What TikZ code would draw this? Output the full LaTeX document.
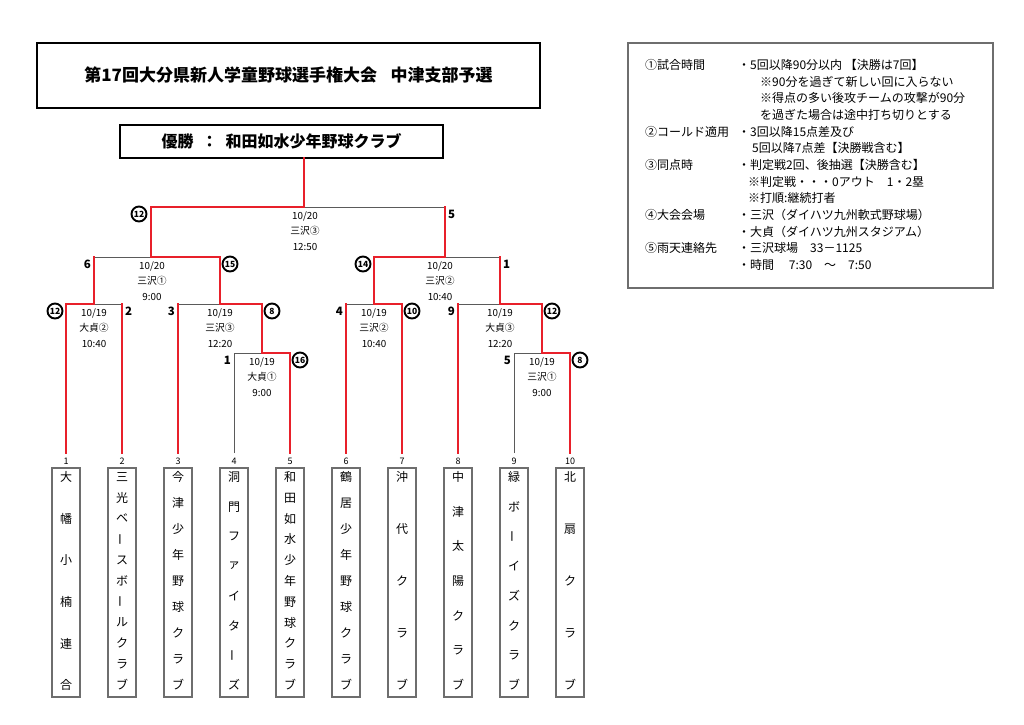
\documentclass[tikz,border=0pt]{standalone}
\usepackage{fontspec}
\setmainfont{Noto Sans CJK JP}
\definecolor{brred}{HTML}{E8202A}
\definecolor{brgray}{HTML}{5A5A5A}
\definecolor{boxgray}{HTML}{6E6E6E}
\newcommand\vbar{\rotatebox[origin=c]{90}{ー}}
\newcommand\minfo[6]{%
  \node[info] (#1-d) at (#2,{#3+9}) {#4};
  \node[info] (#1-p) at (#2,{#3+24}) {#5};
  \node[info] (#1-t) at (#2,{#3+40}) {#6};}
\newcommand\team[4]{%
  \node[tbox] (box#1) at (#2,582.5) {};
  \node[tnum] (num#1) at (#2,461) {#1};
  \coordinate (t#1) at (#2,453);
  \foreach \c [count=\k] in {#4} {\node[tname] (tc#1-\k) at (#2,{477+(\k-1)*208/(#3-1)}) {\c};}}
\begin{document}
\begin{tikzpicture}[x=1pt,y=-1pt,
  gl/.style={draw=brgray,line width=0.9pt},
  rl/.style={draw=brred,line width=2.6pt,line join=miter,line cap=rect},
  info/.style={font=\fontsize{9.8}{10}\selectfont,inner sep=0pt},
  sc/.style={font=\fontsize{11.5}{11.5}\selectfont\bfseries,inner sep=0pt},
  csc/.style={circle,draw,line width=1.9pt,inner sep=0pt,minimum size=15pt,font=\fontsize{8.5}{8.5}\selectfont\bfseries},
  tname/.style={font=\fontsize{12}{12}\selectfont,inner sep=0pt},
  tnum/.style={font=\fontsize{9}{9}\selectfont,inner sep=0pt},
  tbox/.style={draw=boxgray,line width=1.3pt,minimum width=28pt,minimum height=229pt,inner sep=0pt},
  rule/.style={font=\fontsize{12}{12}\selectfont,anchor=west,inner sep=0pt}
]
\useasboundingbox (0,0) rectangle (1024,724);
% title and champion
\node[draw,line width=1.5pt,minimum width=503pt,minimum height=65pt,inner sep=0pt,font=\fontsize{17}{17}\selectfont\bfseries] (title) at (288.5,75.5) {第17回大分県新人学童野球選手権大会\hspace{0.8em}中津支部予選};
\node[draw,line width=1.4pt,minimum width=323pt,minimum height=33pt,inner sep=0pt,font=\fontsize{16}{16}\selectfont\bfseries] (champ) at (281.5,141.5) {優勝\hspace{0.5em}：\hspace{0.5em}和田如水少年野球クラブ};
% rules box
\node[draw=boxgray,line width=1.3pt,minimum width=365pt,minimum height=245pt,inner sep=0pt] (rules) at (810.5,165.5) {};
\node[rule] (r1a) at (645,65) {①試合時間};
\node[rule] (r1b) at (738,65) {・5回以降90分以内 【決勝は7回】};
\node[rule] (r2) at (760,82) {※90分を過ぎて新しい回に入らない};
\node[rule] (r3) at (760,98) {※得点の多い後攻チームの攻撃が90分};
\node[rule] (r4) at (760,115) {を過ぎた場合は途中打ち切りとする};
\node[rule] (r5a) at (645,132) {②コールド適用};
\node[rule] (r5b) at (738,132) {・3回以降15点差及び};
\node[rule] (r6) at (752,148) {5回以降7点差【決勝戦含む】};
\node[rule] (r7a) at (645,165) {③同点時};
\node[rule] (r7b) at (738,165) {・判定戦2回、後抽選【決勝含む】};
\node[rule] (r8) at (748,182) {※判定戦・・・0アウト　1・2塁};
\node[rule] (r9) at (748,198) {※打順:継続打者};
\node[rule] (r10a) at (645,215) {④大会会場};
\node[rule] (r10b) at (738,215) {・三沢（ダイハツ九州軟式野球場）};
\node[rule] (r11) at (738,232) {・大貞（ダイハツ九州スタジアム）};
\node[rule] (r12a) at (645,248) {⑤雨天連絡先};
\node[rule] (r12b) at (738,248) {・三沢球場　33－1125};
\node[rule] (r13) at (738,265) {・時間　 7:30　～　7:50};
% teams
\team{1}{66}{6}{大,幡,小,楠,連,合}
\team{2}{122}{11}{三,光,ベ,\vbar,ス,ボ,\vbar,ル,ク,ラ,ブ}
\team{3}{178}{9}{今,津,少,年,野,球,ク,ラ,ブ}
\team{4}{234}{8}{洞,門,フ,ァ,イ,タ,\vbar,ズ}
\team{5}{290}{11}{和,田,如,水,少,年,野,球,ク,ラ,ブ}
\team{6}{346}{9}{鶴,居,少,年,野,球,ク,ラ,ブ}
\team{7}{402}{5}{沖,代,ク,ラ,ブ}
\team{8}{458}{7}{中,津,太,陽,ク,ラ,ブ}
\team{9}{514}{8}{緑,ボ,\vbar,イ,ズ,ク,ラ,ブ}
\team{10}{570}{5}{北,扇,ク,ラ,ブ}
% bracket coordinates
\coordinate (m1l) at (66,304); \coordinate (m1c) at (94,304); \coordinate (m1r) at (122,304);
\coordinate (m2l) at (234,353); \coordinate (m2c) at (262,353); \coordinate (m2r) at (290,353);
\coordinate (m3l) at (178,304); \coordinate (m3c) at (220,304); \coordinate (m3r) at (262,304);
\coordinate (m4l) at (346,304); \coordinate (m4c) at (374,304); \coordinate (m4r) at (402,304);
\coordinate (m5l) at (514,353); \coordinate (m5c) at (542,353); \coordinate (m5r) at (570,353);
\coordinate (m6l) at (458,304); \coordinate (m6c) at (500,304); \coordinate (m6r) at (542,304);
\coordinate (q1l) at (94,257); \coordinate (q1c) at (151,257); \coordinate (q1r) at (220,257);
\coordinate (q2l) at (374,257); \coordinate (q2c) at (445,257); \coordinate (q2r) at (500,257);
\coordinate (fl) at (151,207); \coordinate (fc) at (304,207); \coordinate (fr) at (445,207);
% gray lines
\draw[gl] (m1l) -- (m1r); \draw[gl] (m2l) -- (m2r); \draw[gl] (m3l) -- (m3r);
\draw[gl] (m4l) -- (m4r); \draw[gl] (m5l) -- (m5r); \draw[gl] (m6l) -- (m6r);
\draw[gl] (q1l) -- (q1r); \draw[gl] (q2l) -- (q2r); \draw[gl] (fl) -- (fr);
\draw[gl] (t4) -- (m2l); \draw[gl] (t9) -- (m5l);
% red lines
\draw[rl] (t1) -- (m1l) -- (m1c) -- (q1l);
\draw[rl] (t2) -- (m1r);
\draw[rl] (t3) -- (m3l);
\draw[rl] (t5) -- (m2r) -- (m2c) -- (m3r) -- (m3c) -- (q1r) -- (q1c) -- (fl) -- (fc) -- (fc |- champ.south);
\draw[rl] (t6) -- (m4l);
\draw[rl] (t7) -- (m4r) -- (m4c) -- (q2l) -- (q2c) -- (fr);
\draw[rl] (t8) -- (m6l);
\draw[rl] (t10) -- (m5r) -- (m5c) -- (m6r) -- (m6c) -- (q2r);
% match info
\minfo{mi1}{94}{304}{10/19}{大貞②}{10:40}
\minfo{mi2}{262}{353}{10/19}{大貞①}{9:00}
\minfo{mi3}{220}{304}{10/19}{三沢③}{12:20}
\minfo{mi4}{374}{304}{10/19}{三沢②}{10:40}
\minfo{mi5}{542}{353}{10/19}{三沢①}{9:00}
\minfo{mi6}{500}{304}{10/19}{大貞③}{12:20}
\minfo{qi1}{152}{257}{10/20}{三沢①}{9:00}
\minfo{qi2}{440}{257}{10/20}{三沢②}{10:40}
\minfo{fi}{305}{207}{10/20}{三沢③}{12:50}
% scores
\node[csc] (s1a) at (55,311) {12};  \node[sc,anchor=west] (s1b) at (125,311) {2};
\node[sc,anchor=east] (s2a) at (231,360) {1}; \node[csc] (s2b) at (300,360) {16};
\node[sc,anchor=east] (s3a) at (175,311) {3}; \node[csc] (s3b) at (272,311) {8};
\node[sc,anchor=east] (s4a) at (343,311) {4}; \node[csc] (s4b) at (412,311) {10};
\node[sc,anchor=east] (s5a) at (511,360) {5}; \node[csc] (s5b) at (580,360) {8};
\node[sc,anchor=east] (s6a) at (455,311) {9}; \node[csc] (s6b) at (552,311) {12};
\node[sc,anchor=east] (q1a) at (91,264) {6}; \node[csc] (q1b) at (230,264) {15};
\node[csc] (q2a) at (363,264) {14}; \node[sc,anchor=west] (q2b) at (503,264) {1};
\node[csc] (fa) at (139,214) {12}; \node[sc,anchor=west] (fb) at (448,214) {5};
\end{tikzpicture}
\end{document}
